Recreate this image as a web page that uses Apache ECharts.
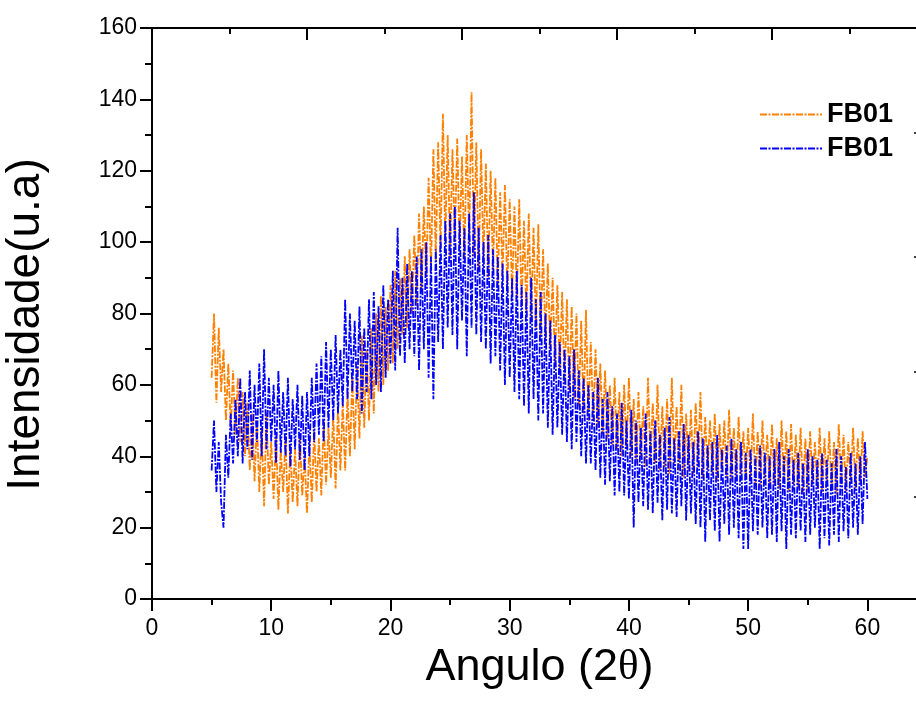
<!DOCTYPE html>
<html>
<head>
<meta charset="utf-8">
<script src="https://cdn.jsdelivr.net/npm/echarts@6/dist/echarts.min.js"></script>
<style>html,body{margin:0;padding:0;background:#fff;}#c{width:916px;height:707px;}</style>
</head>
<body>
<div id="c"></div>
<script>
// Scan grid: 2θ from 5.0 to 60.0 every 0.2 degree
const scanStart = 5.0;
const scanStep = 0.2;

// Series 1 (orange) intensities (5 values per degree)
const orangeValues = [
  62, 80, 55, 76, 58,
  70, 50, 66, 48, 64,
  46, 62, 44, 58, 40,
  55, 36, 52, 33, 50,
  30, 48, 26, 52, 32,
  44, 28, 46, 25, 42,
  30, 45, 24, 43, 27,
  42, 26, 46, 29, 40,
  24, 44, 27, 47, 30,
  45, 29, 50, 32, 48,
  34, 52, 31, 54, 36,
  55, 36, 58, 40, 62,
  42, 65, 45, 74, 48,
  70, 50, 76, 52, 80,
  58, 85, 60, 82, 64,
  88, 66, 92, 70, 90,
  74, 96, 76, 98, 80,
  102, 82, 108, 86, 110,
  90, 118, 92, 126, 95,
  128, 98, 136, 100, 130,
  96, 126, 100, 129, 98,
  124, 95, 130, 100, 142,
  96, 128, 92, 126, 95,
  122, 90, 120, 92, 118,
  88, 114, 90, 116, 86,
  112, 85, 110, 84, 112,
  82, 106, 80, 108, 78,
  104, 76, 105, 74, 98,
  72, 94, 70, 90, 66,
  88, 64, 86, 60, 84,
  58, 82, 56, 80, 54,
  78, 52, 81, 50, 72,
  50, 70, 48, 66, 46,
  64, 45, 60, 43, 62,
  42, 58, 40, 60, 42,
  62, 40, 56, 38, 58,
  40, 54, 37, 62, 39,
  55, 38, 60, 36, 54,
  37, 56, 35, 62, 38,
  54, 36, 60, 34, 52,
  36, 53, 35, 55, 37,
  58, 34, 51, 36, 50,
  35, 52, 33, 49, 36,
  50, 34, 53, 33, 48,
  33, 51, 35, 47, 34,
  48, 33, 52, 32, 47,
  31, 50, 34, 46, 32,
  49, 32, 45, 31, 50,
  33, 47, 30, 49, 32,
  46, 31, 48, 30, 45,
  30, 47, 32, 44, 31,
  48, 30, 45, 32, 47,
  31, 44, 29, 49, 32,
  46, 30, 44, 33, 48,
  31, 45, 32, 47, 34,
  40
];

// Series 2 (blue) intensities (5 values per degree)
const blueValues = [
  36, 50, 30, 44, 27,
  20, 46, 34, 52, 38,
  56, 40, 62, 38, 58,
  42, 64, 39, 60, 44,
  66, 40, 70, 42, 62,
  44, 60, 38, 64, 41,
  58, 40, 62, 37, 56,
  42, 60, 39, 57, 36,
  58, 40, 62, 44, 66,
  46, 68, 44, 72, 48,
  70, 50, 74, 52, 70,
  54, 84, 56, 80, 58,
  78, 56, 82, 52, 76,
  58, 84, 56, 86, 60,
  82, 58, 88, 62, 84,
  66, 92, 64, 104, 68,
  90, 66, 94, 70, 92,
  68, 96, 64, 98, 70,
  100, 62, 96, 56, 98,
  72, 102, 70, 106, 76,
  108, 74, 110, 70, 106,
  78, 104, 68, 108, 76,
  114, 74, 104, 72, 100,
  70, 102, 66, 98, 68,
  96, 64, 94, 60, 92,
  62, 90, 58, 92, 56,
  88, 54, 86, 52, 90,
  56, 84, 50, 86, 52,
  80, 48, 78, 46, 74,
  48, 72, 46, 70, 44,
  68, 42, 70, 44, 64,
  40, 62, 38, 60, 38,
  58, 36, 62, 34, 56,
  32, 58, 33, 54, 29,
  52, 30, 55, 29, 50,
  28, 53, 20, 50, 27,
  48, 26, 52, 25, 47,
  24, 50, 27, 46, 22,
  48, 25, 51, 24, 45,
  23, 47, 26, 49, 22,
  46, 24, 44, 21, 47,
  20, 45, 16, 43, 22,
  44, 19, 46, 16, 42,
  21, 43, 18, 45, 20,
  42, 17, 44, 14, 41,
  14, 42, 19, 40, 18,
  43, 20, 41, 17, 40,
  18, 42, 16, 44, 19,
  40, 14, 42, 18, 39,
  17, 41, 19, 38, 16,
  42, 18, 40, 20, 39,
  14, 41, 17, 39, 15,
  38, 18, 42, 16, 40,
  19, 37, 17, 41, 20,
  38, 18, 40, 21, 44,
  28
];

const seriesNames = ['FB01', 'FB01 '];   // both curves are labelled "FB01"
const seriesColors = ['#FF8000', '#0000FF'];
const yTickLabels = [0, 20, 40, 60, 80, 100, 120, 140, 160];
// inward tick marks of the (off-page) right frame axis
const rightFrameTicks = [28.6, 63.6, 95.8, 130.6];

const angles = orangeValues.map((_, i) => +(scanStart + i * scanStep).toFixed(1));
const toPairs = vals => vals.map((v, i) => [angles[i], v]);

const FONT = "'Liberation Sans', Arial, sans-serif";
const DASHDOT = [7, 1.5, 2, 1.5];
const chart = echarts.init(document.getElementById('c'), null, {renderer: 'canvas'});

chart.setOption({
  animation: false,
  backgroundColor: '#fff',
  grid: {left: 152, top: 28, width: 775, height: 571, containLabel: false, outerBoundsMode: 'none'},
  legend: {
    orient: 'vertical',
    left: 754, top: 96,
    itemWidth: 62, itemHeight: 26, itemGap: 7,
    itemStyle: {opacity: 0},
    textStyle: {fontFamily: FONT, fontSize: 27, fontWeight: 'bold', color: '#000', lineHeight: 26},
    data: [{name: seriesNames[0]}, {name: seriesNames[1]}]
  },
  xAxis: [{
    type: 'value', position: 'bottom', min: 0, max: 65, interval: 10,
    name: 'Angulo (2{t|θ})', nameLocation: 'middle', nameGap: 32,
    nameTextStyle: {fontFamily: FONT, fontSize: 45, color: '#000',
      rich: {t: {fontFamily: "'Liberation Serif', serif", fontSize: 43, color: '#000'}}},
    axisLine: {show: true, onZero: false, lineStyle: {color: '#000', width: 2}},
    axisTick: {show: true, inside: false, length: 12, lineStyle: {color: '#000', width: 2}},
    minorTick: {show: true, splitNumber: 2, length: 6, lineStyle: {color: '#000', width: 2}},
    axisLabel: {fontFamily: FONT, fontSize: 23, color: '#000', margin: 18, showMaxLabel: false},
    splitLine: {show: false}
  }, {
    type: 'value', position: 'top', min: 0, max: 5, interval: 1,
    axisLine: {show: true, onZero: false, lineStyle: {color: '#000', width: 2}},
    axisTick: {show: true, inside: true, length: 12, lineStyle: {color: '#000', width: 2}},
    minorTick: {show: true, splitNumber: 2, length: 6, lineStyle: {color: '#000', width: 2}},
    axisLabel: {show: false},
    splitLine: {show: false}
  }],
  yAxis: [{
    type: 'value', position: 'left', min: 0, max: 160, interval: 20,
    name: 'Intensidade(u.a)', nameLocation: 'middle', nameGap: 103,
    nameTextStyle: {fontFamily: FONT, fontSize: 46, color: '#000', padding: [0, 22, 0, 0]},
    axisLine: {show: true, onZero: false, lineStyle: {color: '#000', width: 2}},
    axisTick: {show: true, inside: false, length: 12, lineStyle: {color: '#000', width: 2}},
    minorTick: {show: true, splitNumber: 2, length: 7, lineStyle: {color: '#000', width: 2}},
    axisLabel: {fontFamily: FONT, fontSize: 23, color: '#000', margin: 15,
      formatter: v => yTickLabels.includes(v) ? String(v) : ''},
    splitLine: {show: false}
  }, {
    type: 'value', position: 'right', min: 0, max: 160,
    axisLine: {show: true, onZero: false, lineStyle: {color: '#000', width: 2}},
    axisTick: {show: true, inside: true, length: 13, customValues: rightFrameTicks, lineStyle: {color: '#000', width: 1.5}},
    axisLabel: {show: false},
    splitLine: {show: false}
  }],
  series: [{
    name: seriesNames[0], type: 'line', xAxisIndex: 0, yAxisIndex: 0,
    data: toPairs(orangeValues), symbol: 'none', showSymbol: false, sampling: 'none',
    lineStyle: {color: seriesColors[0], width: 1.8, type: DASHDOT},
    itemStyle: {color: seriesColors[0]}
  }, {
    name: seriesNames[1], type: 'line', xAxisIndex: 0, yAxisIndex: 0,
    data: toPairs(blueValues), symbol: 'none', showSymbol: false, sampling: 'none',
    lineStyle: {color: seriesColors[1], width: 1.8, type: DASHDOT},
    itemStyle: {color: seriesColors[1]}
  }]
});
</script>
</body>
</html>
